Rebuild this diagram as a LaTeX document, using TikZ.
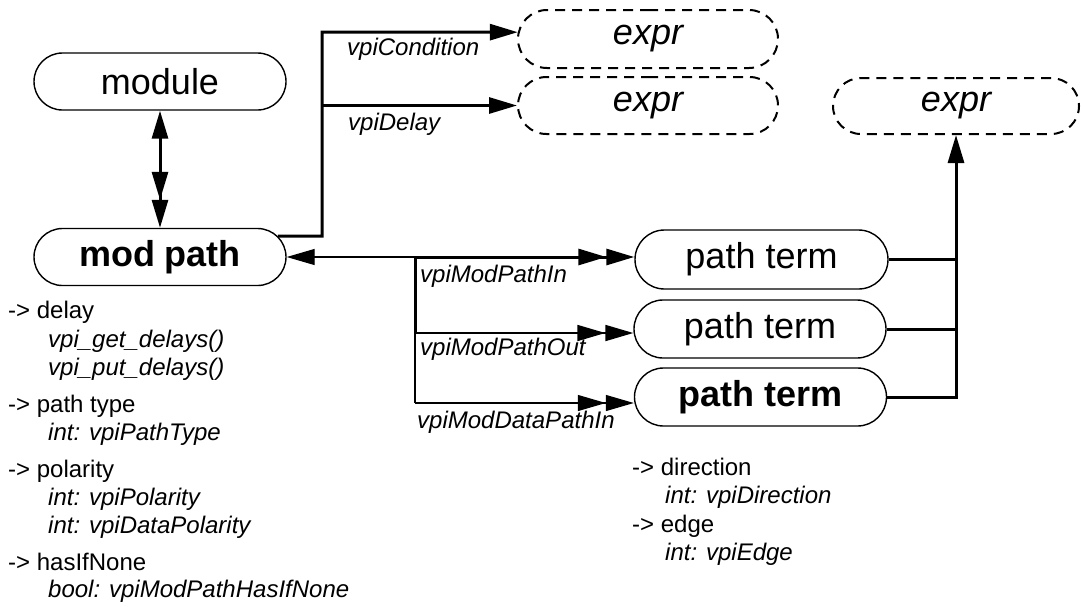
\documentclass[tikz,border=0pt]{standalone}
\usepackage{fontspec}
\setmainfont{Liberation Sans}
\usetikzlibrary{arrows.meta,shapes.misc}
\tikzset{
  endarr/.style={-{Triangle[length=28pt,width=16pt]}},
  enddbl/.style={-{Triangle[length=28pt,width=16pt]Triangle[length=28pt,width=16pt]}},
  startarr/.style={{Triangle[length=28pt,width=16pt]}-},
  bothdbl/.style={{Triangle[length=28pt,width=16pt]}-{Triangle[length=28pt,width=16pt]Triangle[length=28pt,width=16pt]}},
  box/.style={rounded rectangle, draw, line width=1.4pt, minimum width=252pt,
    minimum height=57pt, inner sep=0pt, fill=white,
    font=\fontsize{36}{40}\selectfont},
  boldbox/.style={box, font=\fontsize{36}{40}\selectfont\bfseries},
  dbox/.style={box, dash pattern=on 10pt off 7pt, line width=2pt,
    font=\fontsize{36}{40}\selectfont\itshape},
  lbl/.style={anchor=base west, inner sep=0pt, font=\fontsize{24}{28}\selectfont\itshape},
  prop/.style={anchor=base west, inner sep=0pt, font=\fontsize{24}{28}\selectfont},
  thk/.style={line width=3pt},
  mid/.style={line width=1.8pt},
  thn/.style={line width=1.2pt}
}
\begin{document}
\begin{tikzpicture}[x=1pt,y=-1pt]
\fill[white] (0,0) rectangle (1081,606);
\useasboundingbox (0,0) rectangle (1081,606);

% nodes
\node[box] (module) at (160,81.5) {module};
\node[boldbox] (modpath) at (160,257) {mod path};
\node[dbox, minimum width=260pt, minimum height=58pt] (expr1) at (648,39) {expr};
\node[dbox, minimum width=260pt] (expr2) at (648,105.5) {expr};
\node[dbox, minimum width=246pt, minimum height=56pt] (expr3) at (956,106) {expr};
\node[box, minimum width=253pt, minimum height=59pt] (pt1) at (761.5,259.5) {path term};
\node[box, minimum height=58pt] (pt2) at (760,329) {path term};
\node[boldbox, minimum height=58pt] (pt3) at (760.5,397) {path term};

% module <-> mod path
\draw[thk, bothdbl] (module.south) -- (modpath.north);

% mod path -> expr (condition, delay)
\coordinate (j1) at (322,32);
\draw[thk, endarr] (modpath.10) -| (j1) -- (expr1.177);
\draw[thk, endarr] (j1 |- expr2.west) -- (expr2.west);
\node[lbl] (lcond) at (347,55) {vpiCondition};
\node[lbl] (ldelay) at (348,130) {vpiDelay};

% mod path <-> path terms
\coordinate (j2) at (415,257);
\coordinate (j3) at (415,333);
\coordinate (j4) at (415,403);
\draw[thn, startarr] (modpath.east) -- (j2);
\draw[thk, enddbl] (j2) -- (j2 -| pt1.west);
\draw[thk] (j2) -- (j3);
\draw[thn] (j3) -- (j4);
\draw[mid, enddbl] (j3) -- (j3 -| pt2.west);
\draw[thn, enddbl] (j4) -- (j4 -| pt3.west);
\node[lbl] (lin) at (420,282) {vpiModPathIn};
\node[lbl] (lout) at (420,355) {vpiModPathOut};
\node[lbl] (ldin) at (417,428) {vpiModDataPathIn};

% path terms -> expr
\draw[thk, endarr] (pt3.east) -| (expr3.south);
\draw[thk] (pt1.east) -- (pt1.east -| expr3.south);
\draw[thk] (pt2.east) -- (pt2.east -| expr3.south);

% properties of mod path
\node[prop] (p1) at (8,318) {-> delay};
\node[lbl] (p1a) at (48,347) {vpi\_get\_delays()};
\node[lbl] (p1b) at (48,375) {vpi\_put\_delays()};
\node[prop] (p2) at (8,412) {-> path type};
\node[lbl] (p2a) at (48,440) {int: vpiPathType};
\node[prop] (p3) at (8,477) {-> polarity};
\node[lbl] (p3a) at (48,505) {int: vpiPolarity};
\node[lbl] (p3b) at (48,533) {int: vpiDataPolarity};
\node[prop] (p4) at (8,570) {-> hasIfNone};
\node[lbl] (p4a) at (48,597) {bool: vpiModPathHasIfNone};

% properties of path term
\node[prop] (q1) at (632,475) {-> direction};
\node[lbl] (q1a) at (665,503) {int: vpiDirection};
\node[prop] (q2) at (632,532) {-> edge};
\node[lbl] (q2a) at (665,560) {int: vpiEdge};
\end{tikzpicture}
\end{document}
